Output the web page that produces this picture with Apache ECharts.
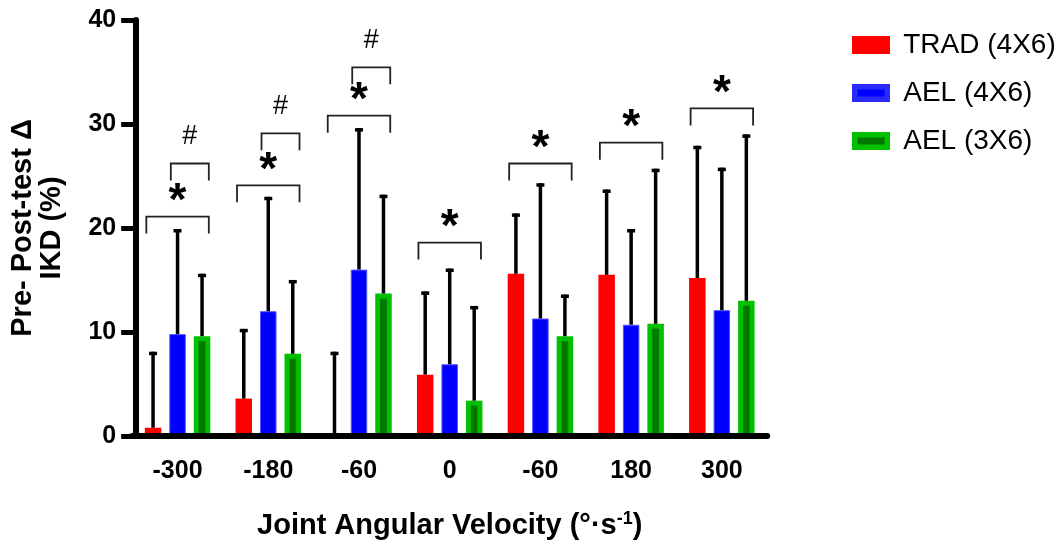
<!DOCTYPE html>
<html><head><meta charset="utf-8">
<script src="https://cdn.jsdelivr.net/npm/echarts@6/dist/echarts.min.js"></script>
<style>html,body{margin:0;padding:0;background:#fff}#c{width:1062px;height:548px}</style>
</head><body><div id="c"></div>
<script>
// ---- data ----
const categories = ['-300', '-180', '-60', '0', '-60', '180', '300'];
const seriesNames = ['TRAD (4X6)', 'AEL (4X6)', 'AEL (3X6)'];
const tradMean  = [0.8, 3.6, 0, 5.9, 15.6, 15.5, 15.2];
const tradUpper = [8.1, 10.3, 8.1, 13.9, 21.4, 23.7, 27.9];
const ael4Mean  = [9.8, 12.0, 16.0, 6.9, 11.3, 10.7, 12.1];
const ael4Upper = [19.9, 23.0, 29.6, 16.1, 24.3, 19.9, 25.8];
const ael3Mean  = [9.6, 7.9, 13.7, 3.4, 9.6, 10.8, 13.0];
const ael3Upper = [15.6, 15.0, 23.2, 12.5, 13.6, 25.7, 29.0];
// significance annotations
const bracketCategory   = [0, 0, 1, 1, 2, 2, 3, 4, 5, 6];
const bracketFromSeries = [0, 1, 0, 1, 0, 1, 0, 0, 0, 0];
const bracketToSeries   = [2, 2, 2, 2, 2, 2, 2, 2, 2, 2];
const bracketLevel      = [21.1, 26.2, 24.1, 29.1, 30.8, 35.45, 18.6, 26.2, 28.2, 31.5];
const bracketMark       = ['*', '#', '*', '#', '*', '#', '*', '*', '*', '*'];

// ---- style ----
const FONT = '"Liberation Sans", Arial, sans-serif';
const BAR_W = 16.5, BAR_GAP = 8;
const colors = ['#ff0000', '#0000ff', '#00c000'];

const means = [tradMean, ael4Mean, ael3Mean];
const uppers = [tradUpper, ael4Upper, ael3Upper];

function barX(api, cat, s) {
  return api.coord([cat, 0])[0] + (s - 1) * (BAR_W + BAR_GAP);
}

const errData = [];
for (let s = 0; s < 3; s++) {
  for (let i = 0; i < categories.length; i++) errData.push([i, means[s][i], uppers[s][i], s]);
}
const brData = bracketCategory.map((c, k) => [c, bracketFromSeries[k], bracketToSeries[k], bracketLevel[k]]);

const chart = echarts.init(document.getElementById('c'), null, {renderer: 'canvas'});
chart.setOption({
  animation: false,
  backgroundColor: '#fff',
  textStyle: {fontFamily: FONT},
  grid: {left: 132.2, right: 294.8, top: 20, bottom: 111.5, containLabel: false},
  legend: {
    orient: 'vertical', left: 847, top: 26, icon: 'rect',
    itemWidth: 32.5, itemHeight: 12.5, itemGap: 20,
    textStyle: {fontSize: 28, color: '#000', fontFamily: FONT, padding: [0, 0, 0, 11]},
    data: [
      {name: seriesNames[0], itemStyle: {color: '#ff0000', borderColor: '#ff0000', borderWidth: 5.5}},
      {name: seriesNames[1], itemStyle: {color: '#0000ff', borderColor: '#2a2aff', borderWidth: 5.5}},
      {name: seriesNames[2], itemStyle: {color: '#007800', borderColor: '#00c000', borderWidth: 5.5}}
    ]
  },
  xAxis: {
    type: 'category', data: categories, z: 10,
    axisLine: {lineStyle: {color: '#000', width: 6}},
    axisTick: {alignWithLabel: true, length: 17, lineStyle: {color: '#000', width: 5}},
    axisLabel: {color: '#000', fontSize: 25, fontWeight: 'bold', fontFamily: FONT, margin: 23},
    name: '{a|Joint Angular Velocity (°·s}{s|-1}{a|)}',
    nameLocation: 'middle', nameGap: 74,
    nameTextStyle: {
      rich: {
        a: {fontSize: 29, fontWeight: 'bold', color: '#000', fontFamily: FONT, lineHeight: 32},
        s: {fontSize: 18, fontWeight: 'bold', color: '#000', fontFamily: FONT, verticalAlign: 'top', lineHeight: 32, padding: [0, 0, 15, 0]}
      }
    }
  },
  yAxis: {
    type: 'value', min: 0, max: 40, interval: 10, z: 10, offset: -4,
    axisLine: {show: true, lineStyle: {color: '#000', width: 6}},
    axisTick: {show: true, length: 15, lineStyle: {color: '#000', width: 5}},
    splitLine: {show: false},
    axisLabel: {color: '#000', fontSize: 25, fontWeight: 'bold', fontFamily: FONT, margin: 20},
    name: 'Pre- Post-test Δ\nIKD (%)', nameLocation: 'middle', nameGap: 70,
    nameTextStyle: {fontSize: 29, fontWeight: 'bold', color: '#000', fontFamily: FONT, lineHeight: 29}
  },
  series: [
    {name: seriesNames[0], type: 'bar', data: tradMean, barWidth: BAR_W, barGap: (BAR_GAP / BAR_W * 100) + '%',
     itemStyle: {color: colors[0]}},
    {name: seriesNames[1], type: 'bar', data: ael4Mean, barWidth: BAR_W, barGap: (BAR_GAP / BAR_W * 100) + '%',
     itemStyle: {color: colors[1], borderColor: '#5555ff', borderWidth: 1}},
    {name: seriesNames[2], type: 'bar', data: ael3Mean, barWidth: BAR_W, barGap: (BAR_GAP / BAR_W * 100) + '%',
     itemStyle: {color: colors[2]}},
    {
      type: 'custom', silent: true, z: 5, data: errData, encode: {x: 0, y: [1, 2]},
      renderItem: function (params, api) {
        const cat = api.value(0), mean = api.value(1), up = api.value(2), s = api.value(3);
        const x = barX(api, cat, s);
        const y0 = api.coord([cat, mean])[1];
        const y1 = api.coord([cat, up])[1];
        const yz = api.coord([cat, 0])[1];
        const ch = [];
        if (s === 2) {
          ch.push({type: 'rect', shape: {x: x - 3.3, y: y0 + 5, width: 6.6, height: Math.max(0, yz - y0 - 5)},
                   style: {fill: '#007800'}});
        }
        ch.push({type: 'line', shape: {x1: x, y1: y0, x2: x, y2: y1}, style: {stroke: '#000', lineWidth: 3.5}});
        ch.push({type: 'line', shape: {x1: x - 4, y1: y1 + 1.7, x2: x + 4, y2: y1 + 1.7}, style: {stroke: '#000', lineWidth: 3.5}});
        return {type: 'group', children: ch};
      }
    },
    {
      type: 'custom', silent: true, z: 6, data: brData, encode: {x: 0, y: 3},
      renderItem: function (params, api) {
        const cat = api.value(0), a = api.value(1), b = api.value(2), lv = api.value(3);
        const xl = barX(api, cat, a) - BAR_W / 2 + 1.5;
        const xr = barX(api, cat, b) + BAR_W / 2 - 1.5;
        const y = api.coord([cat, lv])[1];
        const mark = bracketMark[params.dataIndex];
        const star = mark === '*';
        return {type: 'group', children: [
          {type: 'polyline', shape: {points: [[xl, y + 17], [xl, y], [xr, y], [xr, y + 17]]},
           style: {stroke: '#222', lineWidth: 1.8, fill: null}},
          {type: 'text', x: (xl + xr) / 2, y: star ? y - 14 : y - 27,
           style: {text: mark, fill: '#000', fontFamily: FONT,
                   fontSize: star ? 46 : 27, fontWeight: star ? 'bold' : 'normal',
                   align: 'center', verticalAlign: 'middle'}}
        ]};
      }
    }
  ]
});
</script></body></html>
